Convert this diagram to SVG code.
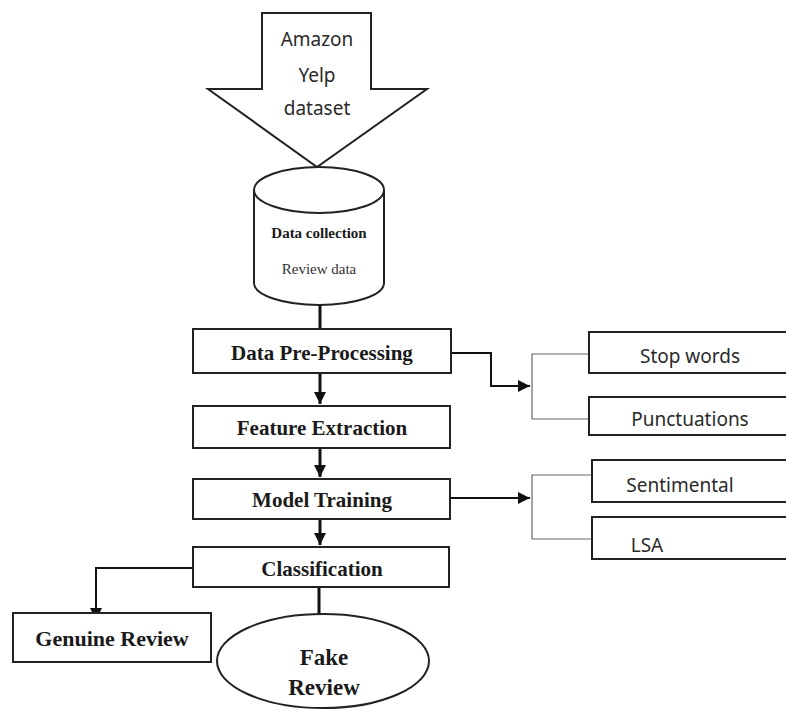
<svg xmlns="http://www.w3.org/2000/svg" width="786" height="711" viewBox="0 0 786 711">
<defs>
<marker id="ah" viewBox="0 0 10 10" refX="10" refY="5" markerWidth="4" markerHeight="4" orient="auto" markerUnits="strokeWidth"><path d="M0,0 L10,5 L0,10 z" fill="#111"/></marker>
<marker id="ahs" viewBox="0 0 10 10" refX="10" refY="5" markerWidth="6" markerHeight="6" orient="auto" markerUnits="strokeWidth"><path d="M0,0 L10,5 L0,10 z" fill="#111"/></marker>
<style>
.box{fill:#fff;stroke:#222;stroke-width:2}
.sbox{fill:#fff;stroke:#222;stroke-width:2}
.bt{font-family:"Liberation Serif",serif;font-weight:bold;fill:#1a1a1a;text-anchor:middle}
.st{font-family:"Noto Sans","Open Sans",sans-serif;fill:#2a2a2a;text-anchor:middle;font-size:19px}
.main{stroke:#111;stroke-width:3;fill:none}
.side{stroke:#111;stroke-width:2;fill:none}
.br{stroke:#666;stroke-width:1.2;fill:none}
</style>
</defs>
<rect width="786" height="711" fill="#fff"/>
<g id="source">
<polygon points="262,13 371,13 371,89 427,89 317,167 208,89 262,89" fill="#fff" stroke="#222" stroke-width="2"/>
<text class="st" x="317" y="46" font-size="21">Amazon</text>
<text class="st" x="317" y="82" font-size="21">Yelp</text>
<text class="st" x="317" y="115" font-size="21">dataset</text>
</g>
<g id="datacollection">
<path d="M254,190 L254,283 A65,22 0 0 0 384,283 L384,190" fill="#fff" stroke="#222" stroke-width="2"/>
<ellipse cx="319" cy="190" rx="65" ry="23" fill="#fff" stroke="#222" stroke-width="2"/>
<text class="bt" x="319" y="238" font-size="15">Data collection</text>
<text x="319" y="274" font-family="Liberation Serif,serif" font-size="15" fill="#333" text-anchor="middle">Review data</text>
</g>
<g id="connectors">
<line class="main" x1="320" y1="305" x2="320" y2="329"/>
<line class="main" x1="320" y1="373" x2="320" y2="404" marker-end="url(#ah)"/>
<line class="main" x1="320" y1="448" x2="320" y2="477" marker-end="url(#ah)"/>
<line class="main" x1="320" y1="519" x2="320" y2="545" marker-end="url(#ah)"/>
<line class="main" x1="319" y1="587" x2="319" y2="614"/>
<polyline class="side" points="193,568 96,568 96,620" marker-end="url(#ahs)"/>
<polyline class="side" points="451,353 491,353 491,386 530,386" marker-end="url(#ahs)"/>
<line class="side" x1="451" y1="498" x2="530" y2="498" marker-end="url(#ahs)"/>
<polyline class="br" points="589,354 532,354 532,419 589,419"/>
<polyline class="br" points="592,475 532,475 532,539 592,539"/>
</g>
<g id="preprocessing">
<rect class="box" x="193" y="329" width="258" height="44"/>
<text class="bt" x="322" y="360" font-size="21">Data Pre-Processing</text>
</g>
<g id="feature">
<rect class="box" x="193" y="406" width="257" height="42"/>
<text class="bt" x="322" y="435" font-size="21">Feature Extraction</text>
</g>
<g id="training">
<rect class="box" x="193" y="479" width="257" height="40"/>
<text class="bt" x="322" y="507" font-size="21">Model Training</text>
</g>
<g id="classification">
<rect class="box" x="193" y="547" width="256" height="40"/>
<text class="bt" x="322" y="576" font-size="21">Classification</text>
</g>
<g id="stopwords">
<rect class="sbox" x="589" y="332" width="200" height="41"/>
<text class="st" x="690" y="363">Stop words</text>
</g>
<g id="punctuations">
<rect class="sbox" x="589" y="397" width="200" height="38"/>
<text class="st" x="690" y="426">Punctuations</text>
</g>
<g id="sentimental">
<rect class="sbox" x="592" y="460" width="197" height="42"/>
<text class="st" x="680" y="492" font-size="21">Sentimental</text>
</g>
<g id="lsa">
<rect class="sbox" x="592" y="517" width="197" height="42"/>
<text class="st" x="647" y="552" font-size="21">LSA</text>
</g>
<g id="genuine">
<rect class="box" x="13" y="613" width="198" height="49"/>
<text class="bt" x="112" y="646" font-size="22">Genuine Review</text>
</g>
<g id="fake">
<ellipse cx="323" cy="661" rx="106" ry="47" fill="#fff" stroke="#222" stroke-width="2"/>
<text class="bt" x="324" y="665" font-size="23">Fake</text>
<text class="bt" x="324" y="695" font-size="23">Review</text>
</g>
</svg>
